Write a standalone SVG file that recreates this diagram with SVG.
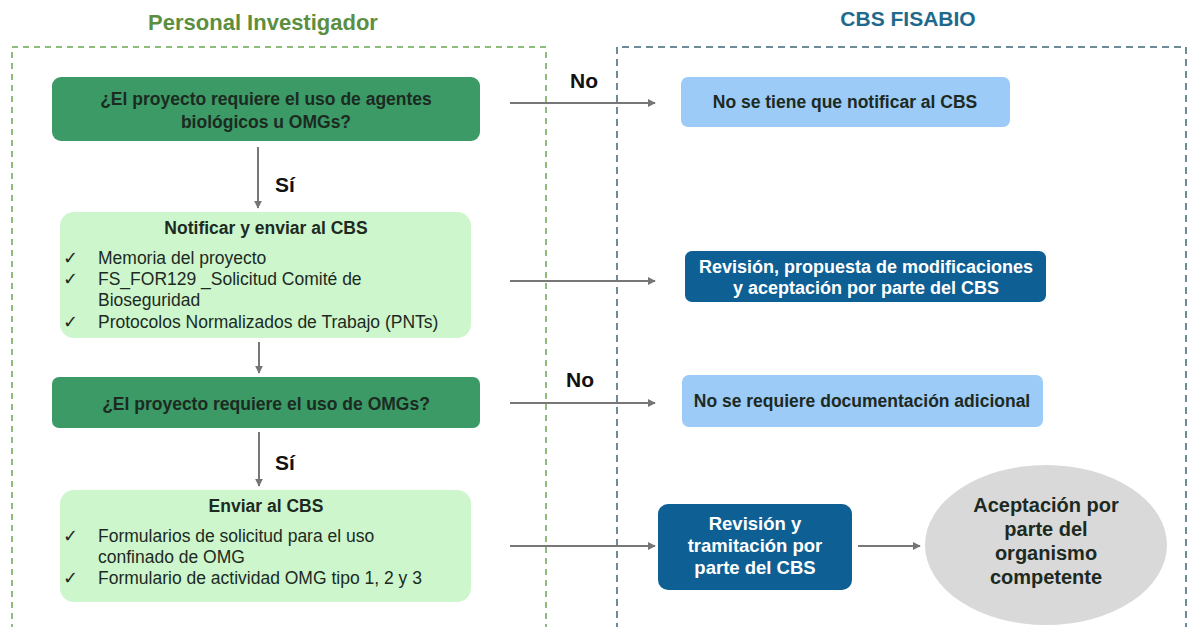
<svg xmlns="http://www.w3.org/2000/svg" width="1189" height="627" viewBox="0 0 1189 627">
<defs>
<marker id="ah" viewBox="0 0 10 10" refX="9" refY="5" markerWidth="4" markerHeight="4" orient="auto"><path d="M0,0 L10,5 L0,10 z" fill="#757575"/></marker>
<style>
text{font-family:"Liberation Sans",Arial,sans-serif;}
.t{font-weight:bold;font-size:17.5px;fill:#1c2a22;text-anchor:middle;}
.w{font-weight:bold;font-size:18px;fill:#ffffff;text-anchor:middle;}
.li{font-size:17.5px;fill:#1c2a22;}
.ck{font-family:"DejaVu Sans",sans-serif;font-size:18px;fill:#1c2a22;}
.lbl{font-weight:bold;font-size:21px;fill:#111;}
.dg{fill:#3b9a66;}
.lg{fill:#cdf6cd;}
.lb{fill:#9dcbf7;}
.db{fill:#0e6094;}
.conn line{stroke:#777;stroke-width:2;marker-end:url(#ah);}
</style>
</defs>
<rect width="1189" height="627" fill="#ffffff"/>
<g id="lanes">
<text x="263" y="30" text-anchor="middle" style="font-weight:bold;font-size:22px;fill:#5b8f3f">Personal Investigador</text>
<text x="908" y="26" text-anchor="middle" style="font-weight:bold;font-size:21px;fill:#1f6a8c">CBS FISABIO</text>
<path d="M12,630 V47 H546 V630" fill="none" stroke="#6aa84f" stroke-width="1.5" stroke-dasharray="6,5"/>
<path d="M617,630 V47 H1186 V630" fill="none" stroke="#3e6577" stroke-width="1.5" stroke-dasharray="7,5"/>
</g>
<g class="conn" id="connectors">
<line x1="258" y1="147" x2="258" y2="208"/>
<line x1="259" y1="342" x2="259" y2="373"/>
<line x1="259" y1="432" x2="259" y2="486"/>
<line x1="510" y1="103" x2="655" y2="103"/>
<line x1="510" y1="281" x2="655" y2="281"/>
<line x1="510" y1="403" x2="655" y2="403"/>
<line x1="510" y1="546" x2="655" y2="546"/>
<line x1="858" y1="546" x2="920" y2="546"/>
<text class="lbl" x="275" y="192">Sí</text>
<text class="lbl" x="275" y="470">Sí</text>
<text class="lbl" x="570" y="88">No</text>
<text class="lbl" x="566" y="387">No</text>
</g>
<g id="n1">
<rect class="dg" x="52" y="77" width="428" height="64" rx="9"/>
<text class="t" x="266" y="105">¿El proyecto requiere el uso de agentes</text>
<text class="t" x="266" y="128">biológicos u OMGs?</text>
</g>
<g id="n2">
<rect class="lg" x="60" y="212" width="411" height="126" rx="14"/>
<text class="t" x="266" y="234">Notificar y enviar al CBS</text>
<text class="ck" x="63" y="264">✓</text><text class="li" x="98" y="264">Memoria del proyecto</text>
<text class="ck" x="63" y="285">✓</text><text class="li" x="98" y="285">FS_FOR129 _Solicitud Comité de</text>
<text class="li" x="98" y="306">Bioseguridad</text>
<text class="ck" x="63" y="328">✓</text><text class="li" x="98" y="328">Protocolos Normalizados de Trabajo (PNTs)</text>
</g>
<g id="n3">
<rect class="dg" x="52" y="377" width="428" height="51" rx="7"/>
<text class="t" x="266" y="410">¿El proyecto requiere el uso de OMGs?</text>
</g>
<g id="n4">
<rect class="lg" x="60" y="490" width="411" height="112" rx="14"/>
<text class="t" x="266" y="512">Enviar al CBS</text>
<text class="ck" x="63" y="542">✓</text><text class="li" x="98" y="542">Formularios de solicitud para el uso</text>
<text class="li" x="98" y="563">confinado de OMG</text>
<text class="ck" x="63" y="584">✓</text><text class="li" x="98" y="584">Formulario de actividad OMG tipo 1, 2 y 3</text>
</g>
<g id="r1">
<rect class="lb" x="681" y="77" width="329" height="50" rx="7"/>
<text class="t" x="845" y="108">No se tiene que notificar al CBS</text>
</g>
<g id="r2">
<rect class="db" x="685" y="251" width="361" height="51" rx="7"/>
<text class="w" x="866" y="273">Revisión, propuesta de modificaciones</text>
<text class="w" x="866" y="294">y aceptación por parte del CBS</text>
</g>
<g id="r3">
<rect class="lb" x="682" y="375" width="361" height="52" rx="7"/>
<text class="t" x="862" y="407">No se requiere documentación adicional</text>
</g>
<g id="r4">
<rect class="db" x="658" y="504" width="194" height="86" rx="10"/>
<text class="w" x="755" y="530" style="font-size:18.5px">Revisión y</text>
<text class="w" x="755" y="552" style="font-size:18.5px">tramitación por</text>
<text class="w" x="755" y="574" style="font-size:18.5px">parte del CBS</text>
</g>
<g id="r5">
<ellipse cx="1046" cy="545" rx="121" ry="80" fill="#d9d9d9"/>
<text class="t" x="1046" y="512" style="font-size:20px">Aceptación por</text>
<text class="t" x="1046" y="536" style="font-size:20px">parte del</text>
<text class="t" x="1046" y="560" style="font-size:20px">organismo</text>
<text class="t" x="1046" y="584" style="font-size:20px">competente</text>
</g>
</svg>
